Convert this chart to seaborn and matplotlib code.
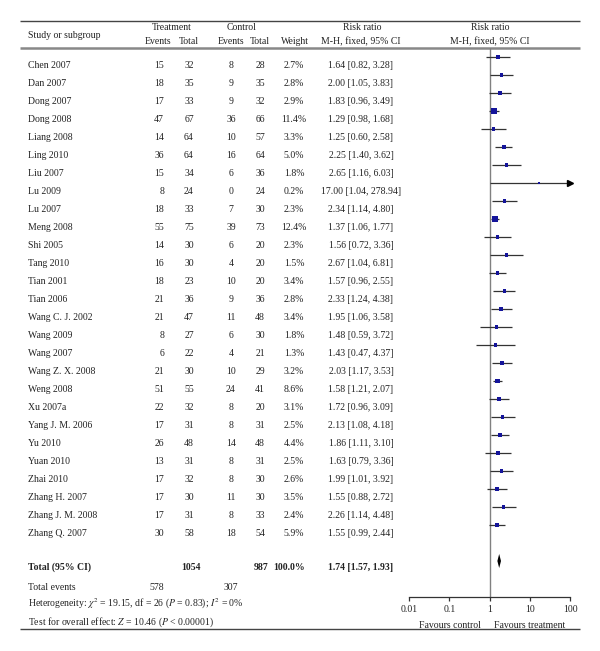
import numpy as np
import pandas as pd
import matplotlib
matplotlib.use("Agg")
import matplotlib.pyplot as plt
import seaborn as sns

# ---------------- data ----------------
studies = ["Chen 2007", "Dan 2007", "Dong 2007", "Dong 2008", "Liang 2008", "Ling 2010",
           "Liu 2007", "Lu 2009", "Lu 2007", "Meng 2008", "Shi 2005", "Tang 2010",
           "Tian 2001", "Tian 2006", "Wang C. J. 2002", "Wang 2009", "Wang 2007",
           "Wang Z. X. 2008", "Weng 2008", "Xu 2007a", "Yang J. M. 2006", "Yu 2010",
           "Yuan 2010", "Zhai 2010", "Zhang H. 2007", "Zhang J. M. 2008", "Zhang Q. 2007"]
trt_events = [15, 18, 17, 47, 14, 36, 15, 8, 18, 55, 14, 16, 18, 21, 21, 8, 6, 21, 51, 22, 17, 26, 13, 17, 17, 17, 30]
trt_total = [32, 35, 33, 67, 64, 64, 34, 24, 33, 75, 30, 30, 23, 36, 47, 27, 22, 30, 55, 32, 31, 48, 31, 32, 30, 31, 58]
ctl_events = [8, 9, 9, 36, 10, 16, 6, 0, 7, 39, 6, 4, 10, 9, 11, 6, 4, 10, 24, 8, 8, 14, 8, 8, 11, 8, 18]
ctl_total = [28, 35, 32, 66, 57, 64, 36, 24, 30, 73, 20, 20, 20, 36, 48, 30, 21, 29, 41, 20, 31, 48, 31, 30, 30, 33, 54]
weights = [2.7, 2.8, 2.9, 11.4, 3.3, 5.0, 1.8, 0.2, 2.3, 12.4, 2.3, 1.5, 3.4, 2.8, 3.4, 1.8, 1.3,
           3.2, 8.6, 3.1, 2.5, 4.4, 2.5, 2.6, 3.5, 2.4, 5.9]
rr = [1.64, 2.00, 1.83, 1.29, 1.25, 2.25, 2.65, 17.00, 2.34, 1.37, 1.56, 2.67, 1.57, 2.33, 1.95,
      1.48, 1.43, 2.03, 1.58, 1.72, 2.13, 1.86, 1.63, 1.99, 1.55, 2.26, 1.55]
rr_lo = [0.82, 1.05, 0.96, 0.98, 0.60, 1.40, 1.16, 1.04, 1.14, 1.06, 0.72, 1.04, 0.96, 1.24, 1.06,
         0.59, 0.47, 1.17, 1.21, 0.96, 1.08, 1.11, 0.79, 1.01, 0.88, 1.14, 0.99]
rr_hi = [3.28, 3.83, 3.49, 1.68, 2.58, 3.62, 6.03, 278.94, 4.80, 1.77, 3.36, 6.81, 2.55, 4.38, 3.58,
         3.72, 4.37, 3.53, 2.07, 3.09, 4.18, 3.10, 3.36, 3.92, 2.72, 4.48, 2.44]

total_trt = 1054
total_ctl = 987
total_weight = 100.0
total_rr, total_lo, total_hi = 1.74, 1.57, 1.93
total_events_trt = 578
total_events_ctl = 307

x_ticks = [0.01, 0.1, 1, 10, 100]
x_tick_labels = ["0.01", "0.1", "1", "10", "100"]

# ---------------- style ----------------
sns.set_style("white")
plt.rcParams["font.family"] = ["Liberation Serif", "DejaVu Serif"]
plt.rcParams["mathtext.fontset"] = "stix"
FS = 7
TXT = "#222222"

fig = plt.figure(figsize=(6, 6.51), dpi=100)

# background table axes in pixel units
bg = fig.add_axes([0, 0, 1, 1])
bg.set_xlim(0, 600)
bg.set_ylim(651, 0)
bg.axis("off")

# rule lines
bg.hlines(21, 20, 580, color="#444444", lw=1.0)
bg.hlines(48, 20, 580, color="#888888", lw=1.8)
bg.hlines(629, 20, 580, color="#444444", lw=1.0)

def t(x, y, s, ha="center", bold=False, **kw):
    bg.text(x, y, s, ha=ha, va="baseline", fontsize=FS, color=TXT,
            fontweight="bold" if bold else "normal", **kw)

# header
t(28, 37.5, "Study or subgroup", ha="left")
t(172, 30.5, "Treatment")
t(158, 44.5, "Events")
t(189, 44.5, "Total")
t(242, 30.5, "Control")
t(231, 44.5, "Events")
t(260, 44.5, "Total")
t(295, 44.5, "Weight")
t(362, 30.5, "Risk ratio")
t(361, 44.5, "M-H, fixed, 95% CI")
t(490, 30.5, "Risk ratio")
t(490, 44.5, "M-H, fixed, 95% CI")

# rows
for i, name in enumerate(studies):
    yb = 67.5 + 18 * i
    t(28, yb, name, ha="left")
    t(164, yb, str(trt_events[i]), ha="right")
    t(189, yb, str(trt_total[i]))
    t(231, yb, str(ctl_events[i]))
    t(260, yb, str(ctl_total[i]))
    t(294, yb, f"{weights[i]:.1f}%")
    t(361, yb, f"{rr[i]:.2f} [{rr_lo[i]:.2f}, {rr_hi[i]:.2f}]")

# totals
t(28, 569.5, "Total (95% CI)", ha="left", bold=True)
t(191, 569.5, str(total_trt), bold=True)
t(261, 569.5, str(total_ctl), bold=True)
t(289, 569.5, f"{total_weight:.1f}%", bold=True)
t(361, 569.5, f"{total_rr:.2f} [{total_lo:.2f}, {total_hi:.2f}]", bold=True)
t(28, 589.5, "Total events", ha="left")
t(164, 589.5, str(total_events_trt), ha="right")
t(231, 589.5, str(total_events_ctl))
t(28, 606.5, r"Heterogeneity: $\chi^2$ = 19.15, df = 26 ($P$ = 0.83); $I^2$ = 0%", ha="left")
t(28, 624.5, r"Test for overall effect: $Z$ = 10.46 ($P$ < 0.00001)", ha="left")
t(450, 627.5, "Favours control")
t(530, 627.5, "Favours treatment")

# ---------------- forest axes ----------------
ax = fig.add_axes([409 / 600, 1 - 597 / 651, 161 / 600, 549 / 651])
ax.patch.set_alpha(0)
ax.set_xscale("log")

df = pd.DataFrame({"study": studies, "rr": rr, "lo": rr_lo, "hi": rr_hi,
                   "w": weights, "row": np.arange(len(studies))})

ax.axvline(1, color="#808080", lw=1.0, zorder=1)
ax.hlines(df["row"], df["lo"].clip(upper=100), df["hi"].clip(upper=100),
          color="#333333", lw=0.9, zorder=2)
sns.scatterplot(data=df, x="rr", y="row", size="w", sizes=(3.5, 17), marker="s",
                color="#14149a", edgecolor="none", linewidth=0, legend=False,
                ax=ax, zorder=3)
over = df[df["hi"] > 100]
ax.plot(np.full(len(over), 100.0), over["row"], linestyle="none", marker=">",
        ms=4.5, color="black", clip_on=False, zorder=4)

total_row = len(studies) + 1
h = 0.39
ax.fill([total_lo, total_rr, total_hi, total_rr],
        [total_row, total_row - h, total_row, total_row + h], color="black", lw=0, zorder=3)

ax.set_xlim(0.01, 100)
ax.set_ylim(30, -0.5)
ax.set_xticks(x_ticks)
ax.set_xticklabels(x_tick_labels)
ax.minorticks_off()
ax.set_yticks([])
ax.set_xlabel("")
ax.set_ylabel("")
for s in ["top", "right", "left"]:
    ax.spines[s].set_visible(False)
ax.spines["bottom"].set_color("#333333")
ax.spines["bottom"].set_linewidth(0.9)
ax.tick_params(axis="x", which="major", direction="out", length=3, width=0.9,
               color="#333333", labelsize=FS, labelcolor=TXT, pad=3, bottom=True)

fig.savefig("out.png", dpi=100)
